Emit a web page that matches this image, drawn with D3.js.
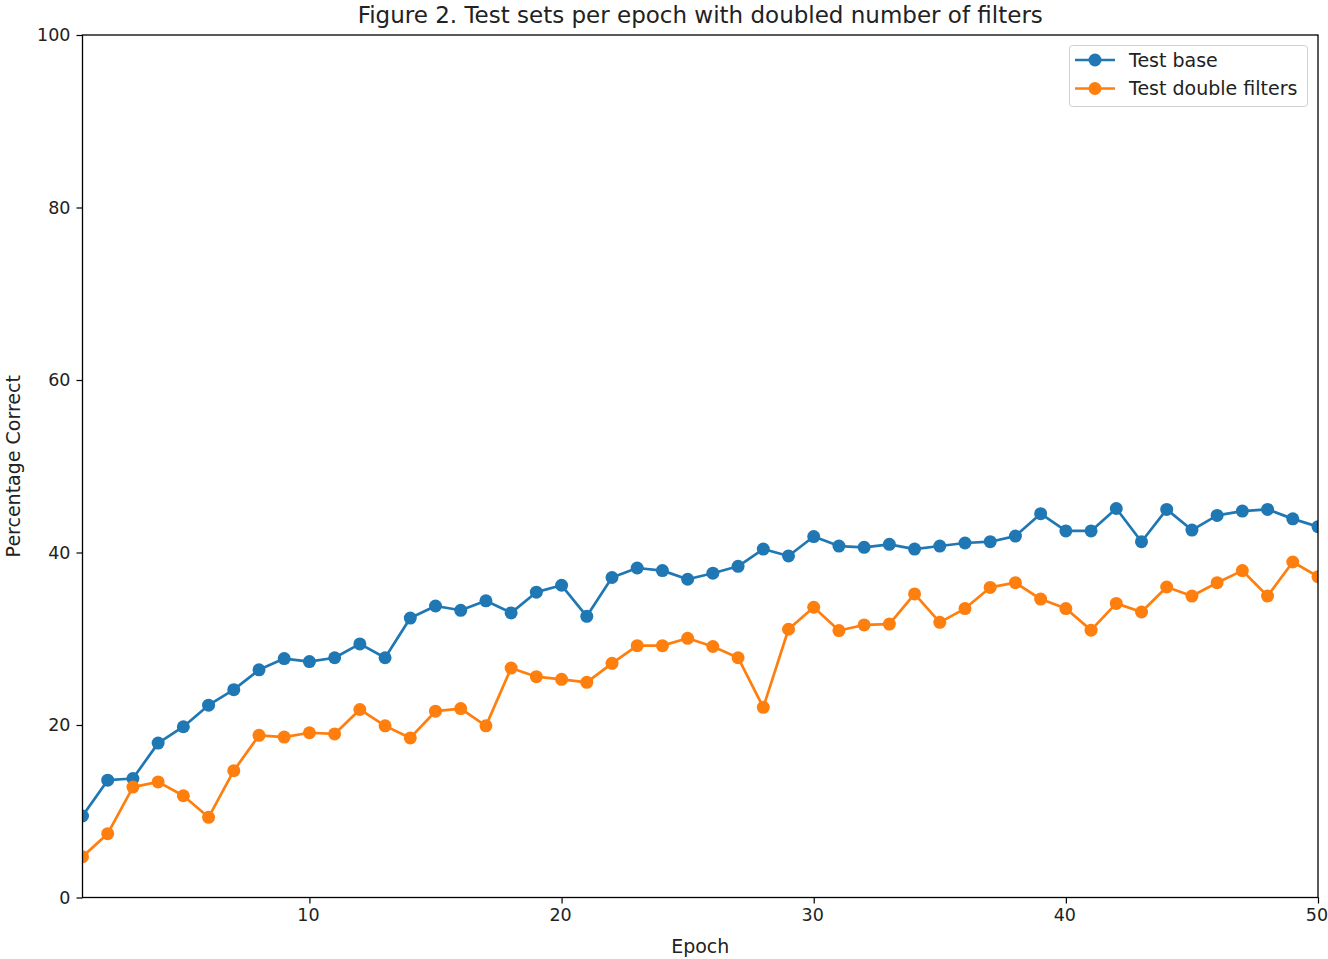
<!DOCTYPE html>
<html>
<head>
<meta charset="utf-8">
<script src="https://cdn.jsdelivr.net/npm/d3@7"></script>
<style>
  html, body { margin: 0; padding: 0; background: #fff; }
  svg { display: block; font-family: "DejaVu Sans", sans-serif; }
</style>
</head>
<body>
<svg id="chart" width="1328" height="959"></svg>
<script>
// Test accuracy (%) per epoch
const epochs = d3.range(1, 51);
const testBase = [9.45, 13.6, 13.8, 17.9, 19.8, 22.3, 24.1, 26.4, 27.7, 27.35,
  27.8, 29.4, 27.8, 32.4, 33.8, 33.3, 34.4, 33.0, 35.4, 36.2,
  32.6, 37.1, 38.2, 37.9, 36.9, 37.6, 38.4, 40.4, 39.6, 41.85,
  40.75, 40.6, 40.95, 40.4, 40.75, 41.1, 41.25, 41.9, 44.5, 42.5,
  42.5, 45.1, 41.25, 45.0, 42.6, 44.3, 44.8, 45.0, 43.9, 43.0];
const testDouble = [4.73, 7.4, 12.8, 13.4, 11.8, 9.3, 14.7, 18.8, 18.6, 19.1,
  18.96, 21.8, 19.9, 18.5, 21.6, 21.9, 19.9, 26.6, 25.6, 25.3,
  24.95, 27.15, 29.2, 29.2, 30.05, 29.1, 27.8, 22.05, 31.1, 33.65,
  30.95, 31.6, 31.7, 35.2, 31.9, 33.5, 35.95, 36.5, 34.6, 33.5,
  31.0, 34.1, 33.1, 36.0, 34.95, 36.5, 37.9, 34.95, 38.9, 37.2];
const xTicks = [10, 20, 30, 40, 50];
const yTicks = [0, 20, 40, 60, 80, 100];
const seriesNames = ["Test base", "Test double filters"];
const seriesColors = ["#1f77b4", "#ff7f0e"];

const svg = d3.select("#chart");
const margin = {left: 82.5, right: 10, top: 35, bottom: 61.5};
const W = 1328, H = 959;
const x = d3.scaleLinear().domain([1, 50]).range([margin.left, W - margin.right]);
const y = d3.scaleLinear().domain([0, 100]).range([H - margin.bottom, margin.top]);

const tickFont = 17.5;
const labelFont = 19;

svg.append("defs").append("clipPath").attr("id", "plotClip")
  .append("rect")
  .attr("x", x(1)).attr("y", y(100))
  .attr("width", x(50) - x(1)).attr("height", y(0) - y(100));

// Series lines and markers
const series = [testBase, testDouble];
const line = d3.line().x((d, i) => x(epochs[i])).y(d => y(d));
const plot = svg.append("g").attr("clip-path", "url(#plotClip)");
series.forEach((vals, k) => {
  const g = plot.append("g");
  g.append("path").datum(vals)
    .attr("d", line)
    .attr("fill", "none")
    .attr("stroke", seriesColors[k])
    .attr("stroke-width", 2.7)
    .attr("stroke-linejoin", "round");
  g.selectAll("circle").data(vals).join("circle")
    .attr("cx", (d, i) => x(epochs[i]))
    .attr("cy", d => y(d))
    .attr("r", 6.5)
    .attr("fill", seriesColors[k]);
});

// Axes
const xAxis = d3.axisBottom(x).tickValues(xTicks).tickSize(6).tickPadding(5);
const yAxis = d3.axisLeft(y).tickValues(yTicks).tickSize(6).tickPadding(6);
const gx = svg.append("g").attr("transform", `translate(0,${y(0)})`).call(xAxis);
const gy = svg.append("g").attr("transform", `translate(${x(1)},0)`).call(yAxis);
[gx, gy].forEach(g => {
  g.select(".domain").remove();
  g.selectAll(".tick line").attr("stroke", "#000").attr("stroke-width", 1.2);
  g.selectAll(".tick text").attr("fill", "#222").style("font-size", tickFont + "px")
    .style("font-family", "'DejaVu Sans', sans-serif");
});
// keep the last x label inside the canvas
gx.selectAll(".tick text").attr("dx", -1.5);

// Frame
svg.append("rect")
  .attr("x", x(1)).attr("y", y(100))
  .attr("width", x(50) - x(1)).attr("height", y(0) - y(100))
  .attr("fill", "none").attr("stroke", "#000").attr("stroke-width", 1.3);

// Labels
svg.append("text")
  .attr("x", (x(1) + x(50)) / 2).attr("y", 22.5)
  .attr("text-anchor", "middle")
  .style("font-size", "23px").attr("fill", "#222")
  .text("Figure 2. Test sets per epoch with doubled number of filters");
svg.append("text")
  .attr("x", (x(1) + x(50)) / 2).attr("y", 952.5)
  .attr("text-anchor", "middle")
  .style("font-size", labelFont + "px").attr("fill", "#222")
  .text("Epoch");
svg.append("text")
  .attr("transform", `translate(20,${(y(0) + y(100)) / 2}) rotate(-90)`)
  .attr("text-anchor", "middle")
  .style("font-size", labelFont + "px").attr("fill", "#222")
  .text("Percentage Correct");

// Legend
const legend = svg.append("g");
legend.append("rect")
  .attr("x", 1069.5).attr("y", 45.5).attr("width", 238).attr("height", 61)
  .attr("rx", 3).attr("fill", "#fff").attr("fill-opacity", 0.8)
  .attr("stroke", "#d0d0d0").attr("stroke-width", 1);
seriesNames.forEach((name, k) => {
  const ly = 60 + k * 28.5;
  legend.append("line")
    .attr("x1", 1075).attr("x2", 1115).attr("y1", ly).attr("y2", ly)
    .attr("stroke", seriesColors[k]).attr("stroke-width", 2.7);
  legend.append("circle").attr("cx", 1095).attr("cy", ly).attr("r", 6.5)
    .attr("fill", seriesColors[k]);
  legend.append("text").attr("x", 1129).attr("y", ly).attr("dy", "0.35em")
    .style("font-size", labelFont + "px").attr("fill", "#222").text(name);
});
</script>
</body>
</html>
